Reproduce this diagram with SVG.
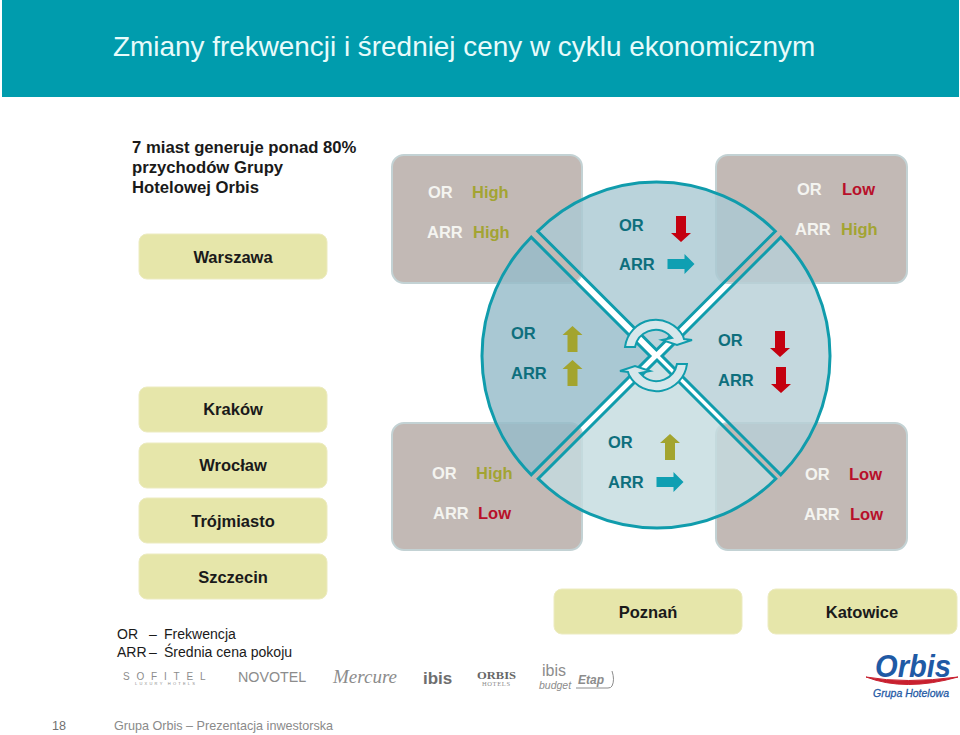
<svg xmlns="http://www.w3.org/2000/svg" width="960" height="735" viewBox="0 0 960 735">
<style>
text{font-family:"Liberation Sans",Arial,sans-serif}
.node{fill:#e6e6aa;stroke:#ecebc0;stroke-width:1}
.lbl{font-size:16.5px;font-weight:bold;fill:#1a1a1a;text-anchor:middle}
.box{fill:#c2b9b5;stroke:#c3d2d4;stroke-width:2}
.w{font-size:16.5px;font-weight:bold;fill:#f4f4f0}
.hi{font-size:16.5px;font-weight:bold;fill:#a3a433}
.lo{font-size:16.5px;font-weight:bold;fill:#b8102a}
.t{font-size:16.5px;font-weight:bold;fill:#0e6f7d}
.sec{stroke:#109cac;stroke-width:3;stroke-linejoin:miter;fill-opacity:.82}
.up{fill:#a3a42e}.dn{fill:#c4000f}.rt{fill:#0f9fb2}
.cyc{fill:#d6e7eb;stroke:#109cac;stroke-width:2;stroke-linejoin:miter}
.leg{font-size:14.050px;fill:#1a1a1a}
.logo{fill:#8c8c8c}
.serif{font-family:"Liberation Serif",serif}
</style>
<defs>
<path id="ad" d="M-5 0H5V17H10L0 26L-10 17H-5Z"/>
<path id="au" d="M-5 26H5V9H10L0 0L-10 9H-5Z"/>
<path id="ar" d="M0-5H17V-10L27 0L17 10V5H0Z"/>
<path id="cy" d="M625 347A31 31 0 0 1 683 336L684 339L692 340L677 345L662 340L672 338L668 334A21 21 0 0 0 635 347Z"/>
</defs>
<rect x="2" y="0" width="957" height="97" fill="#009cad"/>
<text x="113" y="56" font-size="27.900" fill="#e8fbfb">Zmiany frekwencji i średniej ceny w cyklu ekonomicznym</text>
<g id="intro" font-size="16.700" font-weight="bold" fill="#1a1a1a">
<text x="132" y="153">7 miast generuje ponad 80%</text>
<text x="132" y="173">przychodów Grupy</text>
<text x="132" y="193">Hotelowej Orbis</text>
</g>
<g id="warszawa"><rect class="node" x="139" y="234" width="188" height="45" rx="8"/><text class="lbl" x="233" y="263">Warszawa</text></g>
<g id="krakow"><rect class="node" x="139" y="387" width="188" height="45" rx="8"/><text class="lbl" x="233" y="415">Kraków</text></g>
<g id="wroclaw"><rect class="node" x="139" y="443" width="188" height="45" rx="8"/><text class="lbl" x="233" y="471">Wrocław</text></g>
<g id="trojmiasto"><rect class="node" x="139" y="498" width="188" height="45" rx="8"/><text class="lbl" x="233" y="527">Trójmiasto</text></g>
<g id="szczecin"><rect class="node" x="139" y="554" width="188" height="45" rx="8"/><text class="lbl" x="233" y="583">Szczecin</text></g>
<g id="poznan"><rect class="node" x="554" y="589" width="188" height="45" rx="8"/><text class="lbl" x="648" y="618">Poznań</text></g>
<g id="katowice"><rect class="node" x="768" y="589" width="189" height="45" rx="8"/><text class="lbl" x="862" y="618">Katowice</text></g>

<g id="box-tl"><rect class="box" x="392" y="155" width="190" height="128" rx="12"/></g>
<g id="box-tr"><rect class="box" x="716" y="155" width="191" height="128" rx="12"/></g>
<g id="box-bl"><rect class="box" x="392" y="423" width="190" height="127" rx="12"/></g>
<g id="box-br"><rect class="box" x="716" y="423" width="191" height="127" rx="12"/></g>

<g id="sector-left"><path class="sec" fill="#96bcc9" d="M650 356L531.200 237.200A168 168 0 0 0 531.200 474.800Z"/></g>
<g id="sector-top"><path class="sec" fill="#abc9d3" d="M656.500 350L537.700 231.200A168 168 0 0 1 775.300 231.200Z"/></g>
<g id="sector-right"><path class="sec" fill="#b7cfd7" d="M662 356L780.800 237.200A168 168 0 0 1 780.800 474.800Z"/></g>
<g id="sector-bottom"><path class="sec" fill="#c5dcdf" d="M657 360L538.200 478.800A168 168 0 0 0 775.800 478.800Z"/></g>

<g id="labels-tl"><text class="w" x="428" y="198">OR</text><text class="hi" x="472" y="198">High</text><text class="w" x="427" y="238">ARR</text><text class="hi" x="473" y="238">High</text></g>
<g id="labels-tr"><text class="w" x="797" y="195">OR</text><text class="lo" x="842" y="195">Low</text><text class="w" x="795" y="235">ARR</text><text class="hi" x="841" y="235">High</text></g>
<g id="labels-bl"><text class="w" x="432" y="479">OR</text><text class="hi" x="476" y="479">High</text><text class="w" x="433" y="519">ARR</text><text class="lo" x="478" y="519">Low</text></g>
<g id="labels-br"><text class="w" x="805" y="480">OR</text><text class="lo" x="849" y="480">Low</text><text class="w" x="804" y="520">ARR</text><text class="lo" x="850" y="520">Low</text></g>

<g id="top-state"><text class="t" x="619" y="231">OR</text><text class="t" x="619" y="270">ARR</text><use href="#ad" class="dn" x="681" y="216"/><use href="#ar" class="rt" x="667.500" y="264"/></g>
<g id="left-state"><text class="t" x="511" y="339">OR</text><text class="t" x="511" y="379">ARR</text><use href="#au" class="up" x="572.500" y="326"/><use href="#au" class="up" x="572.500" y="360"/></g>
<g id="right-state"><text class="t" x="718" y="346">OR</text><text class="t" x="718" y="386">ARR</text><use href="#ad" class="dn" x="780" y="331"/><use href="#ad" class="dn" x="781" y="367"/></g>
<g id="bottom-state"><text class="t" x="608" y="448">OR</text><text class="t" x="608" y="488">ARR</text><use href="#au" class="up" x="670" y="434"/><use href="#ar" class="rt" x="656.500" y="482"/></g>

<g id="cycle">
<use href="#cy" class="cyc"/>
<use href="#cy" class="cyc" transform="rotate(180 656 355.500)"/>
</g>

<g id="legend">
<text class="leg" x="117" y="639">OR</text><text class="leg" x="149" y="639">–</text><text class="leg" x="164" y="639">Frekwencja</text>
<text class="leg" x="117" y="657">ARR</text><text class="leg" x="149" y="657">–</text><text class="leg" x="164" y="657">Średnia cena pokoju</text>
</g>

<g id="brand-logos">
<text class="logo" x="123" y="680" font-size="10" letter-spacing="6.800">SOFITEL</text>
<text class="logo" x="135" y="685" font-size="4" textLength="60">LUXURY HOTELS</text>
<text class="logo" x="238" y="682" font-size="14.300">NOVOTEL</text>
<text class="logo serif" x="333" y="683" font-size="18" font-style="italic" textLength="64" lengthAdjust="spacingAndGlyphs">Mercure</text>
<text class="logo" x="423" y="684" font-size="17" font-weight="bold" style="fill:#6e6e6e">ibis</text>
<text class="logo serif" x="477" y="679" font-size="10" font-weight="bold" textLength="39" lengthAdjust="spacingAndGlyphs" style="fill:#666">ORBIS</text>
<text class="logo serif" x="482" y="686" font-size="6.500" textLength="28">HOTELS</text>
<text class="logo" x="542" y="675.500" font-size="16">ibis</text>
<text class="logo" x="539" y="689" font-size="10.500" font-style="italic">budget</text>
<text class="logo" x="578" y="684" font-size="12" font-weight="bold" font-style="italic">Etap</text>
<path d="M612 671Q615 680 612 686Q611 688 608 688H576" fill="none" stroke="#8c8c8c" stroke-width="1"/>
</g>
<g id="orbis-logo">
<text x="875" y="677" font-size="31" font-weight="bold" font-style="italic" fill="#1f5aa5" textLength="76" lengthAdjust="spacingAndGlyphs">Orbis</text>
<path d="M866 677Q905 692 958 677Q905 684 866 677Z" fill="#c8202f" stroke="#c8202f" stroke-width="1"/>
<text x="873" y="697" font-size="11.500" font-style="italic" fill="#1f5aa5" stroke="#1f5aa5" stroke-width=".3" textLength="76" lengthAdjust="spacingAndGlyphs">Grupa Hotelowa</text>
</g>
<g id="footer">
<text x="52" y="730" font-size="12.600" fill="#707070">18</text>
<text x="114" y="730" font-size="12.600" fill="#8a8a8a">Grupa Orbis – Prezentacja inwestorska</text>
</g>
</svg>
